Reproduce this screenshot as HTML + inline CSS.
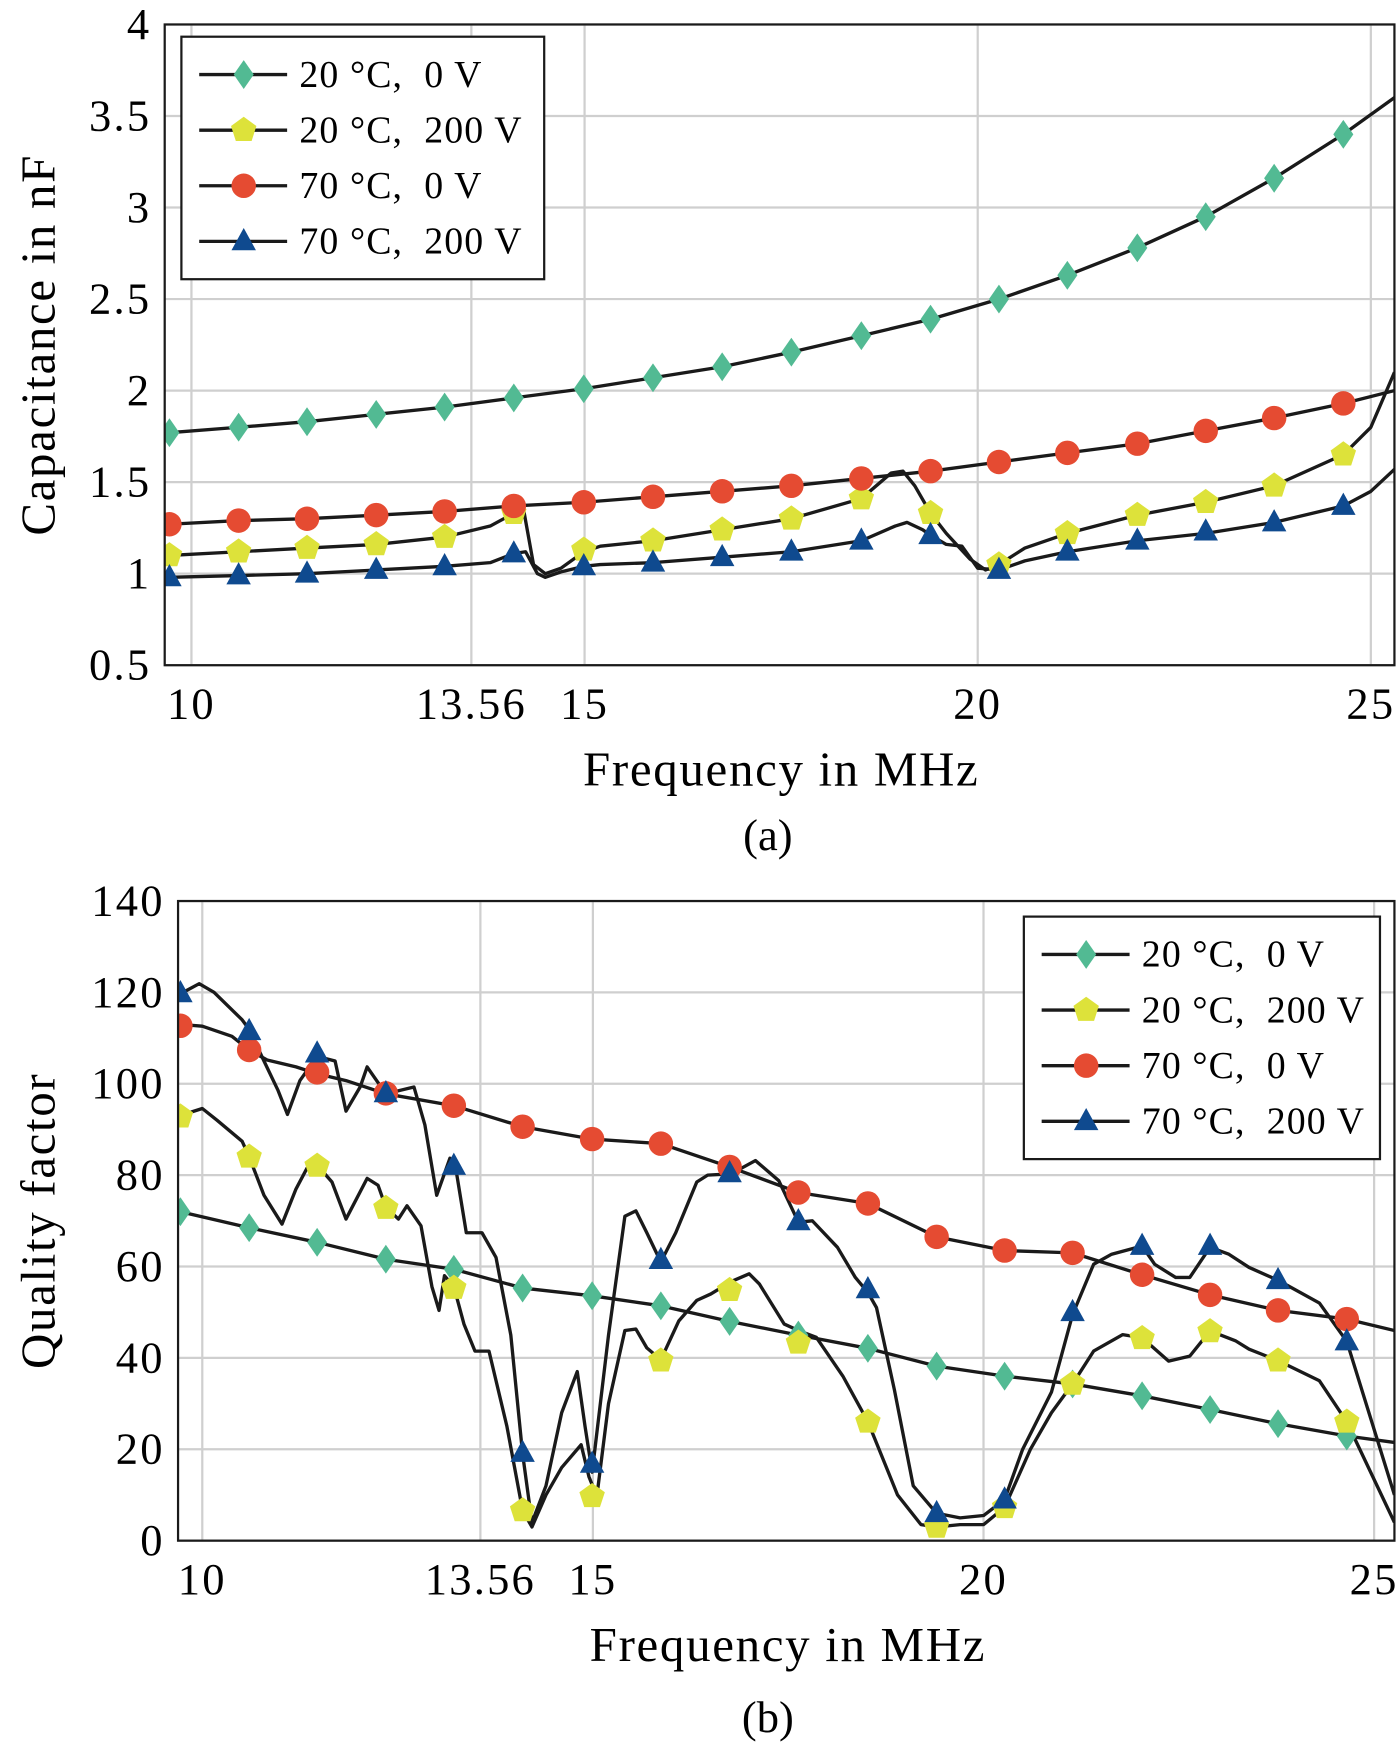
<!DOCTYPE html>
<html><head><meta charset="utf-8">
<style>
html,body{margin:0;padding:0;background:#fff;}
svg{display:block;font-family:"Liberation Serif",serif;}
</style></head>
<body>
<svg id="fig" width="1400" height="1742" viewBox="0 0 1258 1566" preserveAspectRatio="none" xmlns="http://www.w3.org/2000/svg">
<rect x="0" y="0" width="1258" height="1566" fill="#fff"/>
<g id="chartA"></g>
<g id="chartB"></g>
</svg>
<script>
const NS="http://www.w3.org/2000/svg";
const markerFreqs=[9.72,10.6,11.47,12.35,13.22,14.1,14.99,15.87,16.75,17.63,18.52,19.4,20.27,21.14,22.03,22.9,23.77,24.65];
const seriesLabels=["20 °C,  0 V","20 °C,  200 V","70 °C,  0 V","70 °C,  200 V"];
const xTickVals=[10,13.56,15,20,25];
const xTickLabels=["10","13.56","15","20","25"];
// Chart A (capacitance, nF)
const capTickVals=[0.5,1,1.5,2,2.5,3,3.5,4];
const capTickLabels=["0.5","1","1.5","2","2.5","3","3.5","4"];
const capGreenMarkers=[1.77,1.80,1.83,1.87,1.91,1.96,2.01,2.07,2.13,2.21,2.30,2.39,2.50,2.63,2.78,2.95,3.16,3.40];
const capYellowMarkers=[1.10,1.12,1.14,1.16,1.20,1.33,1.13,1.18,1.24,1.30,1.41,1.33,1.05,1.22,1.32,1.39,1.48,1.65];
const capRedMarkers=[1.27,1.29,1.30,1.32,1.34,1.37,1.39,1.42,1.45,1.48,1.52,1.56,1.61,1.66,1.71,1.78,1.85,1.93];
const capBlueMarkers=[0.98,0.99,1.00,1.02,1.04,1.11,1.04,1.06,1.09,1.12,1.18,1.21,1.02,1.12,1.18,1.23,1.28,1.37];
const capGreenLineF=[9.66,9.72,10.6,11.47,12.35,13.22,14.1,14.99,15.87,16.75,17.63,18.52,19.4,20.27,21.14,22.03,22.9,23.77,24.65,25.3];
const capGreenLineV=[1.765,1.77,1.80,1.83,1.87,1.91,1.96,2.01,2.07,2.13,2.21,2.30,2.39,2.50,2.63,2.78,2.95,3.16,3.40,3.60];
const capRedLineF=[9.66,9.72,10.6,11.47,12.35,13.22,14.1,14.99,15.87,16.75,17.63,18.52,19.4,20.27,21.14,22.03,22.9,23.77,24.65,25.3];
const capRedLineV=[1.27,1.27,1.29,1.30,1.32,1.34,1.37,1.39,1.42,1.45,1.48,1.52,1.56,1.61,1.66,1.71,1.78,1.85,1.93,2.0];
const capYellowLineF=[9.66,9.72,10.6,11.47,12.35,13.22,13.8,14.1,14.22,14.35,14.5,14.7,14.99,15.2,15.87,16.75,17.63,18.52,18.9,19.05,19.2,19.4,19.6,19.9,20.1,20.27,20.6,21.14,22.03,22.9,23.77,24.65,25.0,25.3];
const capYellowLineV=[1.10,1.10,1.12,1.14,1.16,1.20,1.26,1.33,1.36,1.05,1.0,1.03,1.12,1.15,1.18,1.24,1.30,1.41,1.55,1.56,1.48,1.33,1.22,1.08,1.02,1.05,1.14,1.22,1.32,1.39,1.48,1.65,1.80,2.10];
const capBlueLineF=[9.66,9.72,10.6,11.47,12.35,13.22,13.8,14.1,14.25,14.4,14.5,14.7,14.99,15.2,15.87,16.75,17.63,18.52,18.95,19.1,19.3,19.4,19.6,19.8,20.0,20.27,20.6,21.14,22.03,22.9,23.77,24.65,25.0,25.3];
const capBlueLineV=[0.98,0.98,0.99,1.00,1.02,1.04,1.06,1.11,1.12,1.0,0.98,1.01,1.04,1.05,1.06,1.09,1.12,1.18,1.26,1.28,1.24,1.21,1.16,1.15,1.03,1.02,1.07,1.12,1.18,1.22,1.28,1.37,1.45,1.57];
// Chart B (quality factor)
const qTickVals=[0,20,40,60,80,100,120,140];
const qTickLabels=["0","20","40","60","80","100","120","140"];
const qGreenMarkers=[72,68.5,65.3,61.6,59.4,55.3,53.6,51.4,48,45,42.1,38.2,36,34.3,31.7,28.7,25.6,22.9];
const qYellowMarkers=[92.8,84,82,72.8,55.3,6.6,9.7,39.4,54.8,43.3,26,3,7.3,34.3,44.3,45.8,39.4,26];
const qRedMarkers=[112.7,107.4,102.5,97.9,95.2,90.6,87.9,86.9,81.8,76.2,73.8,66.5,63.5,63,58.2,53.8,50.4,48.5];
const qBlueMarkers=[119.8,111.5,106.6,97.9,82,19.2,16.8,61.4,80.4,69.9,55,6,9,50,64.5,64.5,57,43.6];
const qGreenLineF=[9.66,9.72,10.6,11.47,12.35,13.22,14.1,14.99,15.87,16.75,17.63,18.52,19.4,20.27,21.14,22.03,22.9,23.77,24.65,25.26];
const qGreenLineV=[72,72,68.5,65.3,61.6,59.4,55.3,53.6,51.4,48,45,42.1,38.2,36,34.3,31.7,28.7,25.6,22.9,21.5];
const qRedLineF=[9.66,9.71,10.0,10.38,10.6,10.83,11.2,11.47,11.84,12.35,13.22,14.1,14.99,15.87,16.75,17.63,18.52,19.4,20.27,21.14,22.03,22.9,23.77,24.65,25.26];
const qRedLineV=[113,113,112.6,110.4,107.4,105.2,103.7,102.2,100.7,97.8,95.2,90.6,87.9,86.9,81.8,76.2,73.8,66.5,63.5,63,58.2,53.8,50.4,48.5,46];
const qBlueLineF=[9.66,9.71,9.96,10.15,10.51,10.6,10.79,10.97,11.09,11.25,11.47,11.7,11.84,12.02,12.11,12.35,12.71,12.85,13.0,13.17,13.24,13.38,13.58,13.76,13.95,14.1,14.22,14.4,14.6,14.8,14.9,14.99,15.2,15.41,15.55,15.69,15.87,16.06,16.33,16.47,16.77,17.08,17.38,17.63,17.81,18.13,18.36,18.52,18.63,18.86,19.1,19.4,19.7,20.0,20.27,20.5,20.87,21.14,21.41,21.64,22.03,22.19,22.46,22.64,22.9,23.14,23.4,23.77,24.3,24.65,25.26];
const qBlueLineV=[119.6,119.6,121.9,120,114,111.9,105,98.5,93.3,100.7,106,105,94,99.3,103.7,97.8,99.3,91,75.6,83.7,82,67.4,67.4,62,45,19,4,12,28,37,25,15,45,71,72.2,67.4,61,67.4,78.5,80,80.3,83.2,78.8,69.7,70,64.2,57.6,54.3,51,33,12,6,5,5.5,9,20,32.5,49.5,60.5,62.7,64.5,60.5,57.6,57.6,64.2,62.7,59.8,57,52,43.6,10];
const qYellowLineF=[9.66,9.71,10.0,10.19,10.51,10.6,10.79,11.02,11.2,11.34,11.47,11.66,11.84,12.11,12.25,12.35,12.51,12.62,12.8,12.94,13.03,13.1,13.22,13.35,13.49,13.67,13.9,14.1,14.22,14.4,14.6,14.85,14.95,15.05,15.2,15.41,15.55,15.69,15.87,16.1,16.33,16.51,16.77,17.0,17.13,17.45,17.63,17.86,18.2,18.52,18.9,19.2,19.4,19.7,20.0,20.27,20.6,20.87,21.14,21.41,21.78,22.03,22.37,22.64,22.9,23.23,23.4,23.77,24.3,24.65,25.26];
const qYellowLineV=[93,93,94.6,92,87.4,84,75.6,69.3,77,81.5,82.2,78.5,70.4,79.3,77.8,73,70.4,73.3,68.9,55.6,50.4,58,55.6,47.4,41.5,41.5,25,6.6,3,10,16,21,14,9.7,30,46,46.3,42.2,39.6,48.1,52.6,54,56.7,58.4,56.2,47.4,46,44.5,36,26,10,3.5,3,3.5,3.5,7.3,20,28,34.3,41.5,45.1,44.4,39.3,40.4,45.9,43.7,41.9,39.4,35,26,4];

const COLORS=["#52BA93","#DDE23A","#E54B32","#0F4A8F"];
const SHAPES=["diamond","pentagon","circle","triangle"];

function mk(tag,attrs,parent){const e=document.createElementNS(NS,tag);for(const k in attrs)e.setAttribute(k,attrs[k]);parent.appendChild(e);return e;}
function marker(shape,cx,cy,color,parent){
  let e;
  if(shape==="circle"){e=mk("circle",{cx:cx,cy:cy,r:11,fill:color},parent);}
  else if(shape==="diamond"){e=mk("polygon",{points:`${cx},${cy-13} ${cx+9},${cy} ${cx},${cy+13} ${cx-9},${cy}`,fill:color},parent);}
  else if(shape==="triangle"){e=mk("polygon",{points:`${cx},${cy-12} ${cx+11},${cy+8} ${cx-11},${cy+8}`,fill:color},parent);}
  else{let p=[];for(let i=0;i<5;i++){const a=-Math.PI/2+i*2*Math.PI/5;p.push((cx+12*Math.cos(a)).toFixed(1)+","+(cy+12*Math.sin(a)).toFixed(1));}e=mk("polygon",{points:p.join(" "),fill:color},parent);}
  return e;
}
function drawChart(g,c){
  const sx=f=>c.x0+(f-c.f0)*(c.x1-c.x0)/(c.f1-c.f0);
  const sy=v=>c.y1-(v-c.v0)*(c.y1-c.y0)/(c.v1-c.v0);
  const bg=mk("rect",{x:c.x0,y:c.y0,width:c.x1-c.x0,height:c.y1-c.y0,fill:"#fff"},g);
  
  
  c.xt.forEach((t,i)=>{
    const l=mk("line",{x1:sx(t),x2:sx(t),y1:c.y0,y2:c.y1,stroke:"#cfcfcf","stroke-width":2},g);
    
    
    const tx=mk("text",{x:sx(t),y:c.y1+48,"text-anchor":"middle","font-size":40,"letter-spacing":2},g);
    tx.textContent=c.xl[i];
    
    
  });
  c.yt.forEach((t,i)=>{
    const l=mk("line",{x1:c.x0,x2:c.x1,y1:sy(t),y2:sy(t),stroke:"#cfcfcf","stroke-width":2},g);
    
    
    const tx=mk("text",{x:c.x0-12,y:sy(t)+13,"text-anchor":"end","font-size":40,"letter-spacing":2},g);
    tx.textContent=c.yl[i];
    
    
  });
  const clip="clip"+g.id;
  const cp=mk("clipPath",{id:clip},g);mk("rect",{x:c.x0,y:c.y0,width:c.x1-c.x0,height:c.y1-c.y0},cp);
  const sg=mk("g",{"clip-path":`url(#${clip})`},g);
  c.series.forEach((s,k)=>{
    const pts=s.lf.map((f,i)=>sx(f).toFixed(1)+","+sy(s.lv[i]).toFixed(1)).join(" ");
    const pl=mk("polyline",{points:pts,fill:"none",stroke:"#1a1a1a","stroke-width":3,"stroke-linejoin":"round"},sg);
    
    
  });
  c.series.forEach((s,k)=>{
    s.m.forEach((v,i)=>{
      const e=marker(SHAPES[k],sx(markerFreqs[i]),sy(v),COLORS[k],sg);
      
      
    });
  });
  const fr=mk("rect",{x:c.x0,y:c.y0,width:c.x1-c.x0,height:c.y1-c.y0,fill:"none",stroke:"#1a1a1a","stroke-width":2},g);
  
  
  const xt=mk("text",{x:c.xtc,y:c.y1+108,"text-anchor":"middle","font-size":44,"letter-spacing":1.5},g);
  xt.textContent="Frequency in MHz";
  
  
  const yc=(c.y0+c.y1)/2;
  const yt=mk("text",{x:36,y:yc,"text-anchor":"middle","font-size":44,"letter-spacing":1.5,transform:`rotate(-90 36 ${yc})`},g);
  yt.setAttribute("dy","13");
  yt.textContent=c.ytitle;
  
  
  const cap=mk("text",{x:690,y:c.capY,"text-anchor":"middle","font-size":40},g);
  cap.textContent=c.cap;
  
  
  const lg=mk("g",{},g);
  
  
  mk("rect",{x:c.lx,y:c.ly,width:c.lw,height:218,fill:"#fff",stroke:"#1a1a1a","stroke-width":2},lg);
  seriesLabels.forEach((lab,k)=>{
    const y=c.ly+34+k*50;
    const en=mk("g",{},lg);
    
    
    mk("line",{x1:c.lx+16,x2:c.lx+95,y1:y,y2:y,stroke:"#1a1a1a","stroke-width":3},en);
    marker(SHAPES[k],c.lx+56,y,COLORS[k],en);
    const t=mk("text",{x:c.lx+106,y:y+11,"font-size":34,"letter-spacing":1,"xml:space":"preserve"},en);
    t.style.whiteSpace="pre";
    t.textContent=lab;
  });
}
drawChart(document.getElementById("chartA"),{x0:148,x1:1253,y0:22,y1:598,f0:9.66,f1:25.3,v0:0.5,v1:4,
  xt:xTickVals,xl:xTickLabels,yt:capTickVals,yl:capTickLabels,ytitle:"Capacitance in nF",cap:"(a)",capY:764,xtc:702,
  lx:163,ly:33,lw:326,
  series:[{m:capGreenMarkers,lf:capGreenLineF,lv:capGreenLineV},{m:capYellowMarkers,lf:capYellowLineF,lv:capYellowLineV},
          {m:capRedMarkers,lf:capRedLineF,lv:capRedLineV},{m:capBlueMarkers,lf:capBlueLineF,lv:capBlueLineV}]});
drawChart(document.getElementById("chartB"),{x0:160,x1:1253,y0:810,y1:1385,f0:9.69,f1:25.26,v0:0,v1:140,
  xt:xTickVals,xl:xTickLabels,yt:qTickVals,yl:qTickLabels,ytitle:"Quality factor",cap:"(b)",capY:1557,xtc:708,
  lx:920,ly:824,lw:320,
  series:[{m:qGreenMarkers,lf:qGreenLineF,lv:qGreenLineV},{m:qYellowMarkers,lf:qYellowLineF,lv:qYellowLineV},
          {m:qRedMarkers,lf:qRedLineF,lv:qRedLineV},{m:qBlueMarkers,lf:qBlueLineF,lv:qBlueLineV}]});
</script>
</body></html>
